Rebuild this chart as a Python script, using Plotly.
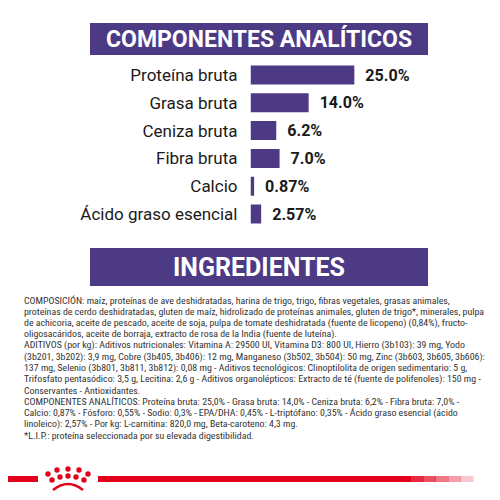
import plotly.graph_objects as go

labels = ["Proteína bruta", "Grasa bruta", "Ceniza bruta", "Fibra bruta", "Calcio", "Ácido graso esencial"]
values = [25.0, 14.0, 6.2, 7.0, 0.87, 2.57]
value_text = ["25.0%", "14.0%", "6.2%", "7.0%", "0.87%", "2.57%"]

title_top = "COMPONENTES ANALÍTICOS"
title_mid = "INGREDIENTES"
body_lines = [
    "COMPOSICIÓN: maíz, proteínas de ave deshidratadas, harina de trigo, trigo, fibras vegetales, grasas animales,",
    "proteínas de cerdo deshidratadas, gluten de maíz, hidrolizado de proteínas animales, gluten de trigo*, minerales, pulpa",
    "de achicoria, aceite de pescado, aceite de soja, pulpa de tomate deshidratada (fuente de licopeno) (0,84%), fructo-",
    "oligosacáridos, aceite de borraja, extracto de rosa de la India (fuente de luteína).",
    "ADITIVOS (por kg): Aditivos nutricionales: Vitamina A: 29500 UI, Vitamina D3: 800 UI, Hierro (3b103): 39 mg, Yodo",
    "(3b201, 3b202): 3,9 mg, Cobre (3b405, 3b406): 12 mg, Manganeso (3b502, 3b504): 50 mg, Zinc (3b603, 3b605, 3b606):",
    "137 mg, Selenio (3b801, 3b811, 3b812): 0,08 mg - Aditivos tecnológicos: Clinoptilolita de origen sedimentario: 5 g,",
    "Trifosfato pentasódico: 3,5 g, Lecitina: 2,6 g - Aditivos organolépticos: Extracto de té (fuente de polifenoles): 150 mg -",
    "Conservantes - Antioxidantes.",
    "COMPONENTES ANALÍTICOS: Proteína bruta: 25,0% - Grasa bruta: 14,0% - Ceniza bruta: 6,2% - Fibra bruta: 7,0% -",
    "Calcio: 0,87% - Fósforo: 0,55% - Sodio: 0,3% - EPA/DHA: 0,45% - L-triptófano: 0,35% - Ácido graso esencial (ácido",
    "linoleico): 2,57% - Por kg: L-carnitina: 820,0 mg, Beta-caroteno: 4,3 mg.",
    "*L.I.P.: proteína seleccionada por su elevada digestibilidad.",
]

purple = "#4d3a85"
red = "#e2001a"

fig = go.Figure(go.Bar(
    x=values, y=labels, orientation="h", width=0.68,
    marker=dict(color=purple, line=dict(width=0)),
    text=["  <b>%s</b>" % t for t in value_text], textposition="outside", cliponaxis=False,
    textfont=dict(size=17, color="#1a1a1a", family="Roboto"),
))


def py(p):
    return 1 - p / 500


shapes = [
    dict(type="rect", xref="paper", yref="paper", x0=82/500, x1=420/500, y0=py(47), y1=py(15),
         fillcolor=purple, line_width=0, layer="below"),
    dict(type="rect", xref="paper", yref="paper", x0=82/500, x1=420/500, y0=py(278), y1=py(240),
         fillcolor=purple, line_width=0, layer="below"),
    dict(type="rect", xref="paper", yref="paper", x0=0, x1=30/500, y0=py(474), y1=py(468),
         fillcolor=red, line_width=0),
]
# red footer line fading out to the right
n = 30
for i in range(n):
    x0 = 90 + i * (375 / n)
    op = 1.0 if x0 < 390 else max(0.0, 1 - (x0 - 390) / 80)
    shapes.append(dict(type="rect", xref="paper", yref="paper", x0=x0/500, x1=(x0 + 375/n + 0.5)/500,
                       y0=py(474), y1=py(468), fillcolor=red, opacity=op, line_width=0))
# crown logo
for cx, cy in [(40, 466), (49, 462), (60, 461), (71, 462), (80, 466),
               (44, 472), (52, 469), (60, 468), (68, 469), (76, 472)]:
    shapes.append(dict(type="circle", xref="paper", yref="paper", x0=(cx-2.7)/500, x1=(cx+2.7)/500,
                       y0=py(cy+2.7), y1=py(cy-2.7), fillcolor=red, line_width=0))
shapes.append(dict(type="path", xref="paper", yref="paper",
                   path="M %f,%f Q %f,%f %f,%f" % (45/500, py(482), 60/500, py(470), 75/500, py(482)),
                   line=dict(color=red, width=2.5)))

annotations = [
    dict(text="<b>%s</b>" % title_top, x=251/500, y=py(31), xref="paper", yref="paper", showarrow=False,
         font=dict(size=23, color="white", family="Roboto"), xanchor="center", yanchor="middle"),
    dict(text="<b>%s</b>" % title_mid, x=251/500, y=py(259), xref="paper", yref="paper", showarrow=False,
         font=dict(size=25, color="white", family="Roboto"), xanchor="center", yanchor="middle"),
]
for i, line in enumerate(body_lines):
    annotations.append(dict(
        text=line, x=14/500, y=py(292 + i * 11.3), xref="paper", yref="paper", showarrow=False,
        align="left", xanchor="left", yanchor="middle",
        font=dict(size=9.9, color="#333333", family="Liberation Sans Narrow, Roboto Condensed, Roboto")))

fig.update_layout(
    width=500, height=500, margin=dict(l=0, r=0, t=0, b=0),
    paper_bgcolor="white", plot_bgcolor="white", showlegend=False,
    xaxis=dict(domain=[0.485, 1.0], range=[0, 62], visible=False),
    yaxis=dict(domain=[py(220), py(53)], autorange="reversed", showgrid=False, showline=False,
               ticks="", ticklabelstandoff=12, tickfont=dict(size=17, color="#1a1a1a", family="Roboto")),
    shapes=shapes, annotations=annotations,
)

fig.write_html("out.html")
